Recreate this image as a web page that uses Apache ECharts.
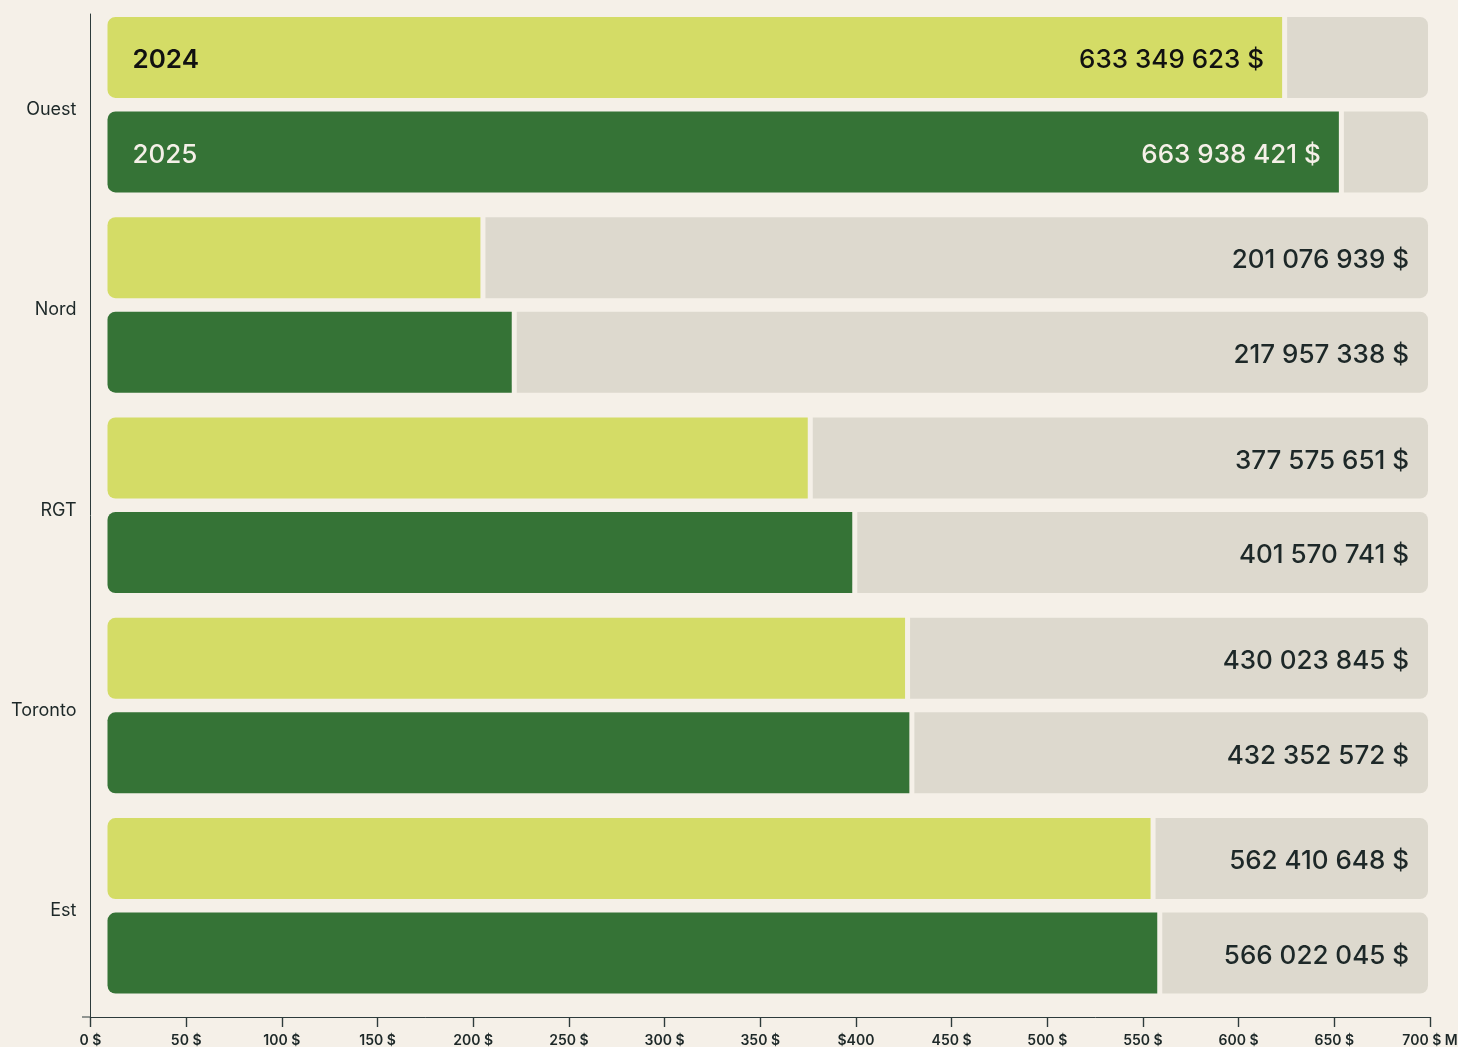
<!DOCTYPE html>
<html>
<head>
<meta charset="utf-8">
<script src="https://cdn.jsdelivr.net/npm/echarts@6/dist/echarts.min.js"></script>
<style>
html, body { margin: 0; padding: 0; background: #f5f0e8; }
#main { width: 1458px; height: 1047px; }
</style>
</head>
<body>
<div id="main"></div>
<script>
var regions = ['Ouest', 'Nord', 'RGT', 'Toronto', 'Est'];
var years = ['2024', '2025'];
var values2024 = [633349623, 201076939, 377575651, 430023845, 562410648];
var values2025 = [663938421, 217957338, 401570741, 432352572, 566022045];
var tickValues = [0, 50, 100, 150, 200, 250, 300, 350, 400, 450, 500, 550, 600, 650, 700];
var tickLabels = ['0 $', '50 $', '100 $', '150 $', '200 $', '250 $', '300 $', '350 $', '$400',
    '450 $', '500 $', '550 $', '600 $', '650 $', '700 $ M'];

var FONT = 'Inter, "Noto Sans", sans-serif';
var DARK = '#1d2828';
var LIGHT = '#f5f0e8';
var AXIS = '#2d3b3b';
var barMax = 712e6;   // longueur de la piste grise
var gap = 2.7e6;      // petit espace entre la barre et la piste

function money(v) {
    return String(v).replace(/\B(?=(\d{3})+(?!\d))/g, ' ') + ' $';
}

function buildSeries(year, values, color, textColor, yearWeight) {
    var stack = 's' + year;
    var inside = values.map(function (v) { return v / barMax > 0.8; });
    var common = {
        type: 'bar', stack: stack, xAxisIndex: 1, yAxisIndex: 1,
        barWidth: 81, barGap: '16.7%', silent: true
    };
    var valueLabel = {
        fontFamily: FONT, fontSize: 26, fontWeight: 500, offset: [0, 3]
    };
    return [
        Object.assign({}, common, {
            name: year,
            itemStyle: { color: color, borderRadius: [8, 0, 0, 8] },
            data: values.map(function (v, i) {
                return {
                    value: v,
                    label: {
                        show: i === 0, position: 'insideLeft', distance: 25,
                        formatter: year, color: textColor, offset: [0, 3],
                        fontFamily: FONT, fontSize: 26, fontWeight: yearWeight
                    }
                };
            })
        }),
        Object.assign({}, common, {
            name: year + '-gap',
            itemStyle: { color: 'transparent' },
            data: values.map(function (v, i) {
                return {
                    value: gap,
                    label: Object.assign({
                        show: inside[i], position: 'left', distance: 18,
                        formatter: money(v), color: textColor
                    }, valueLabel)
                };
            })
        }),
        Object.assign({}, common, {
            name: year + '-rest',
            itemStyle: { color: '#ddd9ce', borderRadius: [0, 8, 8, 0] },
            data: values.map(function (v, i) {
                return {
                    value: barMax - v - gap,
                    label: Object.assign({
                        show: !inside[i], position: 'insideRight', distance: 19,
                        formatter: money(v), color: DARK
                    }, valueLabel)
                };
            })
        })
    ];
}

var myChart = echarts.init(document.getElementById('main'));
myChart.setOption({
    backgroundColor: '#f5f0e8',
    animation: false,
    grid: [
        { left: 90.5, right: 28, top: 14, bottom: 30, outerBoundsMode: 'none' },
        { left: 107.5, right: 30, top: 4.5, bottom: 41, outerBoundsMode: 'none' },
        // bande des graduations sous l'axe
        { left: 90.5, right: 28, top: 1017, height: 10, outerBoundsMode: 'none' }
    ],
    xAxis: [{
        gridIndex: 0, type: 'value', min: 0, max: 700, interval: 50,
        axisLine: { show: true, onZero: false, lineStyle: { color: AXIS, width: 1 } },
        axisTick: { show: true, inside: false, length: 10, lineStyle: { color: AXIS, width: 1.2 } },
        splitLine: { show: false },
        axisLabel: {
            margin: 17, color: DARK, fontFamily: FONT, fontSize: 14, fontWeight: 600,
            formatter: function (v) { return tickLabels[tickValues.indexOf(v)]; }
        }
    }, {
        gridIndex: 1, type: 'value', min: 0, max: barMax, show: false
    }, {
        gridIndex: 2, type: 'value', min: 0, max: 700, interval: 50,
        axisLine: { show: false }, axisTick: { show: false }, axisLabel: { show: false },
        splitLine: { show: true, lineStyle: { color: AXIS, width: 1.2 } }
    }],
    yAxis: [{
        gridIndex: 0, type: 'value', min: 0, max: 1,
        axisLine: { show: true, lineStyle: { color: AXIS, width: 1 } },
        axisTick: { show: false }, axisLabel: { show: false }, splitLine: { show: false }
    }, {
        gridIndex: 1, type: 'category', data: regions, inverse: true,
        axisLine: { show: false }, axisTick: { show: false },
        axisLabel: {
            margin: 31,
            formatter: function (v) { return '{r|' + v + '}'; },
            rich: {
                r: { color: DARK, fontFamily: FONT, fontSize: 18, padding: [10, 0, 0, 0] }
            }
        }
    }, {
        gridIndex: 2, type: 'value', min: 0, max: 1, show: false
    }],
    graphic: [{
        type: 'line', silent: true,
        shape: { x1: 82, y1: 1017, x2: 91, y2: 1017 },
        style: { stroke: AXIS, lineWidth: 1 }
    }],
    series: [{
        type: 'scatter', xAxisIndex: 0, yAxisIndex: 0, data: [], silent: true
    }, {
        type: 'scatter', xAxisIndex: 2, yAxisIndex: 2, data: [], silent: true
    }].concat(
        buildSeries(years[0], values2024, '#d4dc66', '#111', 600),
        buildSeries(years[1], values2025, '#357336', LIGHT, 500)
    )
});
</script>
</body>
</html>
